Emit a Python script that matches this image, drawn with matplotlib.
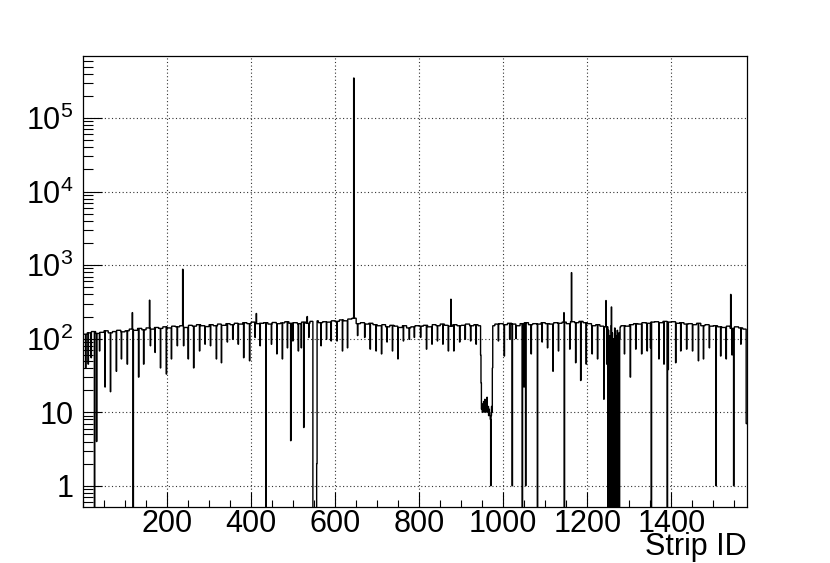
import numpy as np
import matplotlib.pyplot as plt
from matplotlib.ticker import FixedLocator, MultipleLocator, LogLocator, NullFormatter

plt.rcParams['font.family'] = ['Liberation Sans', 'DejaVu Sans']
plt.rcParams['mathtext.fontset'] = 'custom'
plt.rcParams['mathtext.rm'] = 'Liberation Sans'
plt.rcParams['mathtext.it'] = 'Liberation Sans:italic'

# strip occupancy
n_strips = 1580
block_size = 10
# baseline level per block of 10 strips
block_level = [
    115, 120, 125, 118, 122, 128, 120, 125, 130, 124,
    128, 135, 130, 138, 132, 140, 135, 142, 138, 145,
    140, 148, 145, 150, 142, 152, 148, 155, 150, 146,
    155, 150, 158, 152, 160, 155, 162, 158, 165, 160,
    168, 160, 162, 165, 158, 166, 160, 164, 170, 162,
    165, 160, 168, 162, 172, 175, 165, 170, 168, 175,
    172, 180, 175, 185, 190, 160, 165, 158, 162, 155,
    150, 155, 145, 152, 148, 142, 150, 140, 145, 150,
    148, 152, 145, 155, 150, 158, 152, 148, 155, 150,
    152, 158, 150, 155, 150, 150, 150, 150, 158, 160,
    155, 162, 158, 150, 160, 165, 155, 160, 158, 165,
    160, 158, 165, 162, 168, 160, 170, 165, 172, 165,
    160, 150, 155, 148, 145, 150, 140, 145, 150, 148,
    155, 160, 158, 165, 162, 168, 170, 165, 172, 168,
    170, 162, 165, 158, 160, 155, 162, 150, 155, 148,
    150, 145, 142, 148, 138, 145, 140, 135]

# periodic dips and dead strips
dip_strip = [6, 12, 19, 27, 32, 39, 52, 65, 79, 91, 105, 119, 132, 144, 160,
             171, 184, 198, 210, 224, 239, 250, 263, 277, 290, 303, 317, 329,
             343, 356, 369, 382, 396, 409, 421, 435, 448, 461, 474, 486, 494,
             499, 512, 519, 525, 537, 547, 548, 549, 550, 551, 552, 553, 554,
             555, 556, 566, 579, 590, 604, 617, 629, 653, 670, 683, 697, 710,
             723, 736, 749, 762, 776, 788, 803, 817, 830, 843, 856, 869, 882,
             896, 909, 922, 935, 988, 1002, 1015, 1021, 1030, 1045, 1049, 1053,
             1066, 1081, 1092, 1105, 1118, 1131, 1145, 1158, 1172, 1184, 1197,
             1211, 1224, 1239, 1246, 1288, 1302, 1315, 1329, 1342, 1350, 1352,
             1370, 1382, 1390, 1392, 1410, 1422, 1436, 1450, 1464, 1476, 1490,
             1506, 1517, 1530, 1544, 1548, 1565, 1578, 1579]
dip_val = [40, 45, 55, 0, 4, 68, 22, 19, 36, 53, 45, 0, 30, 45, 80,
           65, 40, 33, 53, 80, 80, 53, 40, 68, 84, 80, 53, 47,
           90, 98, 84, 55, 50, 104, 80, 0, 84, 62, 53, 75, 4.1,
           93, 68, 75, 6.2, 104, 0, 0, 0, 0, 0, 0, 0, 0,
           0, 2, 80, 98, 93, 93, 68, 75, 110, 104, 72, 68, 62,
           90, 68, 53, 93, 98, 104, 104, 72, 84, 93, 84, 68, 68,
           90, 98, 93, 84, 93, 58, 98, 1, 100, 0, 22, 1,
           62, 0, 90, 75, 36, 68, 0, 72, 47, 27, 45,
           62, 53, 15, 45, 62, 30, 72, 62, 68, 75, 0,
           53, 45, 0, 38, 47, 68, 72, 68, 50, 53, 75,
           1, 58, 53, 60, 1, 84, 7, 7]

# hot strips
spike_strip = [117, 158, 237, 412, 533, 644, 875, 1144, 1162, 1244, 1541]
spike_val = [226, 334, 880, 220, 200, 350000, 344, 226, 790, 330, 400]

# low-efficiency region
low_start = 946
low_vals = [60, 25, 11, 12, 10, 13, 11, 14, 10, 12, 15, 11, 10, 13, 12, 16,
            11, 10, 12, 9, 11, 10, 9, 8, 1, 9, 12, 10, 40]

# noisy region with alternating dead strips
dense_start = 1249
dense_vals = [0, 130, 0, 110, 0, 60, 0, 150, 270, 0, 120, 0, 24, 0, 100, 0,
              140, 0, 90, 0, 110, 0, 130, 0, 80, 0, 120, 0, 100]

counts = np.repeat(np.array(block_level, dtype=float), block_size)[:n_strips]
counts[dip_strip] = dip_val
counts[spike_strip] = spike_val
counts[low_start:low_start + len(low_vals)] = low_vals
counts[dense_start:dense_start + len(dense_vals)] = dense_vals
edges = np.arange(n_strips + 1)

fig = plt.figure(figsize=(8.3, 5.63), dpi=100)
ax = fig.add_axes([0.1, 0.1, 0.8, 0.8])

plot_vals = np.where(counts > 0, counts, 1e-3)
ax.stairs(plot_vals, edges, baseline=None, color='black', lw=1.0, zorder=3)

ax.set_yscale('log')
ax.set_xlim(0, n_strips)
ax.set_ylim(0.52, 6.9e5)

ax.xaxis.set_major_locator(FixedLocator([200, 400, 600, 800, 1000, 1200, 1400]))
ax.xaxis.set_minor_locator(MultipleLocator(50))
ax.set_xticklabels(['200', '400', '600', '800', '1000', '1200', '1400'])

ymaj = [1, 10, 1e2, 1e3, 1e4, 1e5]
ax.yaxis.set_major_locator(FixedLocator(ymaj))
ax.set_yticklabels(['1', '10', r'$\mathregular{10^{2}}$', r'$\mathregular{10^{3}}$',
                    r'$\mathregular{10^{4}}$', r'$\mathregular{10^{5}}$'])
ax.yaxis.set_minor_locator(LogLocator(base=10, subs=np.arange(2, 10), numticks=50))
ax.yaxis.set_minor_formatter(NullFormatter())

ax.tick_params(which='both', direction='in', top=False, right=False,
               labelsize=22, width=0.8, colors='black')
ax.tick_params(axis='x', which='major', length=10.5, pad=2)
ax.tick_params(axis='x', which='minor', length=5)
ax.tick_params(axis='y', which='major', length=14, pad=7)
ax.tick_params(axis='y', which='minor', length=7)

ax.grid(True, which='major', color='#333333', linestyle=(0, (1, 2.2)), lw=0.8)
for s in ax.spines.values():
    s.set_linewidth(0.9)

fig.text(0.9, 1 - 555 / 563, 'Strip ID', ha='right', va='baseline', fontsize=22)

fig.savefig('out.png', dpi=100)
